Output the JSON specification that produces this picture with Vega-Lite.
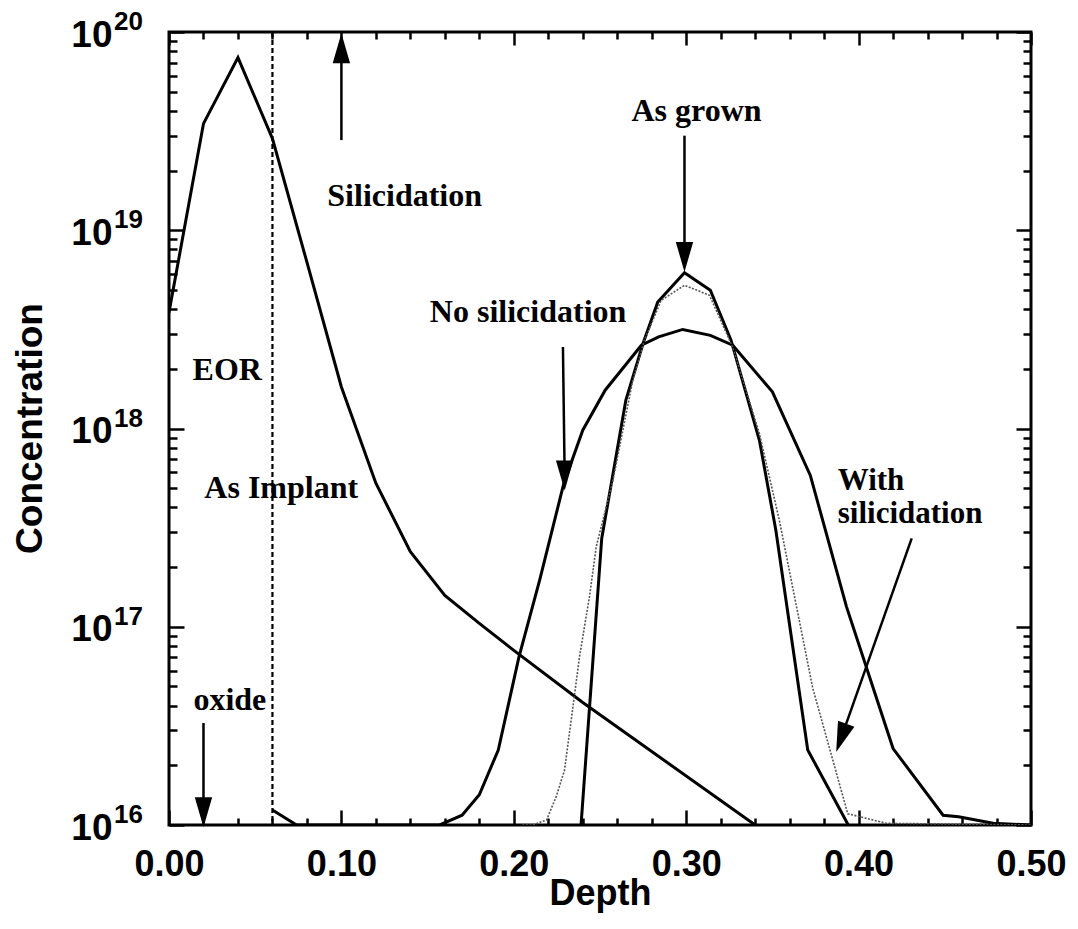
{
  "$schema": "https://vega.github.io/schema/vega-lite/v6.json",
  "width": 862,
  "height": 793,
  "autosize": {"type": "none"},
  "padding": {"left": 169, "top": 32, "right": 47, "bottom": 104},
  "background": "white",
  "config": {
    "view": {"stroke": "black", "strokeWidth": 3, "fill": null},
    "axis": {
      "zindex": 1,
      "grid": false,
      "domain": false,
      "tickColor": "black",
      "tickWidth": 2.5,
      "labelColor": "black",
      "labelFont": "Liberation Sans",
      "labelFontSize": 36,
      "labelFontWeight": "bold",
      "labelOverlap": false,
      "labelBound": false,
      "labelFlush": false,
      "titleColor": "black",
      "titleFont": "Liberation Sans",
      "titleFontSize": 36,
      "titleFontWeight": "bold"
    }
  },
  "datasets": {
    "curves": [
      {"s": "As implant", "d": 0.0, "c": 3.85e18},
      {"s": "As implant", "d": 0.02, "c": 3.45e19},
      {"s": "As implant", "d": 0.04, "c": 7.43e19},
      {"s": "As implant", "d": 0.06, "c": 2.9e19},
      {"s": "As implant", "d": 0.08, "c": 6.9e18},
      {"s": "As implant", "d": 0.10, "c": 1.62e18},
      {"s": "As implant", "d": 0.12, "c": 5.3e17},
      {"s": "As implant", "d": 0.14, "c": 2.39e17},
      {"s": "As implant", "d": 0.16, "c": 1.44e17},
      {"s": "As implant", "d": 0.18, "c": 1.04e17},
      {"s": "As implant", "d": 0.20, "c": 7.6e16},
      {"s": "As implant", "d": 0.24, "c": 4.15e16},
      {"s": "As implant", "d": 0.34, "c": 1.0e16},
      {"s": "No silicidation", "d": 0.060, "c": 1.19e16},
      {"s": "No silicidation", "d": 0.074, "c": 1.0e16},
      {"s": "No silicidation", "d": 0.157, "c": 1.0e16},
      {"s": "No silicidation", "d": 0.170, "c": 1.12e16},
      {"s": "No silicidation", "d": 0.180, "c": 1.42e16},
      {"s": "No silicidation", "d": 0.191, "c": 2.39e16},
      {"s": "No silicidation", "d": 0.203, "c": 7.05e16},
      {"s": "No silicidation", "d": 0.215, "c": 1.72e17},
      {"s": "No silicidation", "d": 0.229, "c": 5.28e17},
      {"s": "No silicidation", "d": 0.240, "c": 9.8e17},
      {"s": "No silicidation", "d": 0.253, "c": 1.56e18},
      {"s": "No silicidation", "d": 0.274, "c": 2.63e18},
      {"s": "No silicidation", "d": 0.284, "c": 2.9e18},
      {"s": "No silicidation", "d": 0.298, "c": 3.16e18},
      {"s": "No silicidation", "d": 0.314, "c": 2.95e18},
      {"s": "No silicidation", "d": 0.327, "c": 2.63e18},
      {"s": "No silicidation", "d": 0.350, "c": 1.53e18},
      {"s": "No silicidation", "d": 0.372, "c": 5.8e17},
      {"s": "No silicidation", "d": 0.393, "c": 1.26e17},
      {"s": "No silicidation", "d": 0.420, "c": 2.43e16},
      {"s": "No silicidation", "d": 0.449, "c": 1.12e16},
      {"s": "No silicidation", "d": 0.458, "c": 1.1e16},
      {"s": "No silicidation", "d": 0.478, "c": 1.02e16},
      {"s": "No silicidation", "d": 0.500, "c": 1.0e16},
      {"s": "As grown", "d": 0.239, "c": 1.0e16},
      {"s": "As grown", "d": 0.251, "c": 2.79e17},
      {"s": "As grown", "d": 0.265, "c": 1.39e18},
      {"s": "As grown", "d": 0.275, "c": 2.69e18},
      {"s": "As grown", "d": 0.2835, "c": 4.35e18},
      {"s": "As grown", "d": 0.299, "c": 6.1e18},
      {"s": "As grown", "d": 0.314, "c": 4.98e18},
      {"s": "As grown", "d": 0.326, "c": 2.79e18},
      {"s": "As grown", "d": 0.3425, "c": 8.7e17},
      {"s": "As grown", "d": 0.352, "c": 3.07e17},
      {"s": "As grown", "d": 0.3705, "c": 2.39e16},
      {"s": "As grown", "d": 0.394, "c": 1.0e16},
      {"s": "With silicidation", "d": 0.205, "c": 1.0e16},
      {"s": "With silicidation", "d": 0.211, "c": 1.0e16},
      {"s": "With silicidation", "d": 0.219, "c": 1.06e16},
      {"s": "With silicidation", "d": 0.2246, "c": 1.39e16},
      {"s": "With silicidation", "d": 0.2294, "c": 1.89e16},
      {"s": "With silicidation", "d": 0.2343, "c": 3.94e16},
      {"s": "With silicidation", "d": 0.2381, "c": 7.05e16},
      {"s": "With silicidation", "d": 0.2439, "c": 1.42e17},
      {"s": "With silicidation", "d": 0.2478, "c": 2.53e17},
      {"s": "With silicidation", "d": 0.2575, "c": 5.48e17},
      {"s": "With silicidation", "d": 0.269, "c": 1.75e18},
      {"s": "With silicidation", "d": 0.2758, "c": 2.79e18},
      {"s": "With silicidation", "d": 0.2855, "c": 4.43e18},
      {"s": "With silicidation", "d": 0.299, "c": 5.28e18},
      {"s": "With silicidation", "d": 0.3135, "c": 4.7e18},
      {"s": "With silicidation", "d": 0.327, "c": 2.57e18},
      {"s": "With silicidation", "d": 0.3425, "c": 9.4e17},
      {"s": "With silicidation", "d": 0.354, "c": 3.45e17},
      {"s": "With silicidation", "d": 0.3734, "c": 4.9e16},
      {"s": "With silicidation", "d": 0.3937, "c": 1.14e16},
      {"s": "With silicidation", "d": 0.416, "c": 1.02e16},
      {"s": "With silicidation", "d": 0.5, "c": 1.0e16}
    ],
    "arrows": [
      {"arrow": "Silicidation", "x1": 0.10, "c1": 2.85e19, "x2": 0.10, "c2": 8.28e19},
      {"arrow": "As grown", "x1": 0.299, "c1": 3.0e19, "x2": 0.299, "c2": 7.33e18},
      {"arrow": "No silicidation", "x1": 0.2285, "c1": 2.58e18, "x2": 0.2295, "c2": 5.8e17},
      {"arrow": "With silicidation", "x1": 0.4308, "c1": 2.79e17, "x2": 0.3899, "c2": 2.75e16},
      {"arrow": "oxide", "x1": 0.02, "c1": 3.27e16, "x2": 0.02, "c2": 1.16e16}
    ],
    "labels": [
      {"text": "Silicidation", "x": 0.1367, "c": 1.48e19},
      {"text": "As grown", "x": 0.306, "c": 4.0e19},
      {"text": "No silicidation", "x": 0.2083, "c": 3.86e18},
      {"text": "EOR", "x": 0.0338, "c": 1.97e18},
      {"text": "As Implant", "x": 0.0651, "c": 5.0e17},
      {"text": "oxide", "x": 0.0353, "c": 4.27e16}
    ],
    "leftlabels": [
      {"text": "With\nsilicidation", "x": 0.3879, "c": 4.89e17}
    ],
    "exponents": [
      {"e": "16", "c": 1e16},
      {"e": "17", "c": 1e17},
      {"e": "18", "c": 1e18},
      {"e": "19", "c": 1e19},
      {"e": "20", "c": 1e20}
    ]
  },
  "layer": [
    {
      "data": {"name": "curves"},
      "transform": [{"filter": "datum.s !== 'With silicidation'"}],
      "mark": {"type": "line", "clip": true, "color": "black", "strokeWidth": 3, "strokeJoin": "miter"},
      "encoding": {
        "x": {
          "field": "d", "type": "quantitative",
          "scale": {"domain": [0, 0.5], "nice": false, "zero": false},
          "axis": {
            "orient": "bottom",
            "offset": -15,
            "tickSize": 15,
            "title": "Depth",
            "titleX": 431, "titleY": 83, "titleBaseline": "middle", "titleAnchor": "middle",
            "values": [0, 0.1, 0.2, 0.3, 0.4, 0.5],
            "format": ".2f",
            "labelPadding": 22
          }
        },
        "y": {
          "field": "c", "type": "quantitative",
          "scale": {"type": "log", "domain": [1e16, 1e20], "nice": false},
          "axis": {
            "orient": "left",
            "offset": -15,
            "tickSize": 15,
            "title": "Concentration",
            "titleX": -154, "titleY": 396, "titleBaseline": "middle", "titleAnchor": "middle",
            "titleFontSize": 37,
            "values": [1e16, 1e17, 1e18, 1e19, 1e20],
            "labelExpr": "'10'",
            "labelFontSize": 37,
            "labelPadding": 57,
            "labelOffset": 3,
            "labelBaseline": "middle"
          }
        },
        "detail": {"field": "s", "type": "nominal"}
      }
    },
    {
      "data": {"name": "curves"},
      "transform": [{"filter": "datum.s === 'With silicidation'"}],
      "mark": {"type": "line", "clip": true, "color": "#555555", "strokeWidth": 1.6, "strokeDash": [2, 1.5]},
      "encoding": {
        "x": {
          "field": "d", "type": "quantitative",
          "axis": {
            "orient": "bottom", "offset": -7, "tickSize": 7, "labels": false, "title": null,
            "values": [0.02, 0.04, 0.06, 0.08, 0.12, 0.14, 0.16, 0.18, 0.22, 0.24, 0.26, 0.28, 0.32, 0.34, 0.36, 0.38, 0.42, 0.44, 0.46, 0.48]
          }
        },
        "y": {
          "field": "c", "type": "quantitative",
          "axis": {
            "orient": "left", "offset": -8, "tickSize": 8, "labels": false, "title": null,
            "values": [2e16, 3e16, 4e16, 5e16, 6e16, 7e16, 8e16, 9e16, 2e17, 3e17, 4e17, 5e17, 6e17, 7e17, 8e17, 9e17, 2e18, 3e18, 4e18, 5e18, 6e18, 7e18, 8e18, 9e18, 2e19, 3e19, 4e19, 5e19, 6e19, 7e19, 8e19, 9e19]
          }
        }
      }
    },
    {
      "data": {"values": [{"d": 0.06}]},
      "mark": {"type": "rule", "color": "black", "strokeWidth": 2.2, "strokeDash": [5, 3]},
      "encoding": {
        "x": {"field": "d", "type": "quantitative", "axis": null}
      }
    },
    {
      "data": {"name": "arrows"},
      "mark": {"type": "rule", "color": "black", "strokeWidth": 2.5},
      "encoding": {
        "x": {
          "field": "x1", "type": "quantitative",
          "axis": {
            "orient": "top", "offset": -13, "tickSize": 13, "labels": false, "title": null,
            "values": [0, 0.1, 0.2, 0.3, 0.4, 0.5]
          }
        },
        "x2": {"field": "x2"},
        "y": {
          "field": "c1", "type": "quantitative",
          "axis": {
            "orient": "right", "offset": -15, "tickSize": 15, "labels": false, "title": null,
            "values": [1e16, 1e17, 1e18, 1e19, 1e20]
          }
        },
        "y2": {"field": "c2"}
      }
    },
    {
      "data": {"name": "arrows"},
      "transform": [{"filter": "datum.arrow === 'Silicidation'"}],
      "mark": {"type": "point", "shape": "M0,-1L0.58,1L-0.58,1Z", "size": 900, "filled": true, "color": "black", "opacity": 1, "strokeWidth": 0},
      "encoding": {
        "x": {"field": "x2", "type": "quantitative", "axis": null},
        "y": {"field": "c2", "type": "quantitative", "axis": null}
      }
    },
    {
      "data": {"name": "arrows"},
      "transform": [{"filter": "datum.arrow === 'As grown' || datum.arrow === 'No silicidation' || datum.arrow === 'oxide'"}],
      "mark": {"type": "point", "shape": "M0,1L0.58,-1L-0.58,-1Z", "size": 900, "filled": true, "color": "black", "opacity": 1, "strokeWidth": 0},
      "encoding": {
        "x": {"field": "x2", "type": "quantitative", "axis": null},
        "y": {"field": "c2", "type": "quantitative", "axis": null}
      }
    },
    {
      "data": {"name": "arrows"},
      "transform": [{"filter": "datum.arrow === 'With silicidation'"}],
      "mark": {"type": "point", "shape": "M0,-1L0.58,1L-0.58,1Z", "size": 900, "angle": 199.5, "filled": true, "color": "black", "opacity": 1, "strokeWidth": 0},
      "encoding": {
        "x": {"field": "x2", "type": "quantitative", "axis": null},
        "y": {"field": "c2", "type": "quantitative", "axis": null}
      }
    },
    {
      "data": {"name": "labels"},
      "mark": {"type": "text", "font": "Liberation Serif", "fontSize": 32, "fontWeight": "bold", "color": "black", "align": "center", "baseline": "middle"},
      "encoding": {
        "x": {
          "field": "x", "type": "quantitative",
          "axis": {
            "orient": "top", "offset": -7, "tickSize": 7, "labels": false, "title": null,
            "values": [0.02, 0.04, 0.06, 0.08, 0.12, 0.14, 0.16, 0.18, 0.22, 0.24, 0.26, 0.28, 0.32, 0.34, 0.36, 0.38, 0.42, 0.44, 0.46, 0.48]
          }
        },
        "y": {
          "field": "c", "type": "quantitative",
          "axis": {
            "orient": "right", "offset": -8, "tickSize": 8, "labels": false, "title": null,
            "values": [2e16, 3e16, 4e16, 5e16, 6e16, 7e16, 8e16, 9e16, 2e17, 3e17, 4e17, 5e17, 6e17, 7e17, 8e17, 9e17, 2e18, 3e18, 4e18, 5e18, 6e18, 7e18, 8e18, 9e18, 2e19, 3e19, 4e19, 5e19, 6e19, 7e19, 8e19, 9e19]
          }
        },
        "text": {"field": "text"}
      }
    },
    {
      "data": {"name": "leftlabels"},
      "mark": {"type": "text", "font": "Liberation Serif", "fontSize": 31, "fontWeight": "bold", "color": "black", "align": "left", "baseline": "alphabetic", "lineBreak": "\n", "lineHeight": 33},
      "encoding": {
        "x": {"field": "x", "type": "quantitative", "axis": null},
        "y": {"field": "c", "type": "quantitative", "axis": null},
        "text": {"field": "text"}
      }
    },
    {
      "data": {"name": "exponents"},
      "mark": {"type": "text", "font": "Liberation Sans", "fontSize": 26, "fontWeight": "bold", "color": "black", "align": "left", "baseline": "middle", "dx": -55, "dy": -10},
      "encoding": {
        "x": {"datum": 0, "type": "quantitative", "axis": null},
        "y": {"field": "c", "type": "quantitative", "axis": null},
        "text": {"field": "e"}
      }
    }
  ],
  "resolve": {"axis": {"x": "independent", "y": "independent"}}
}
